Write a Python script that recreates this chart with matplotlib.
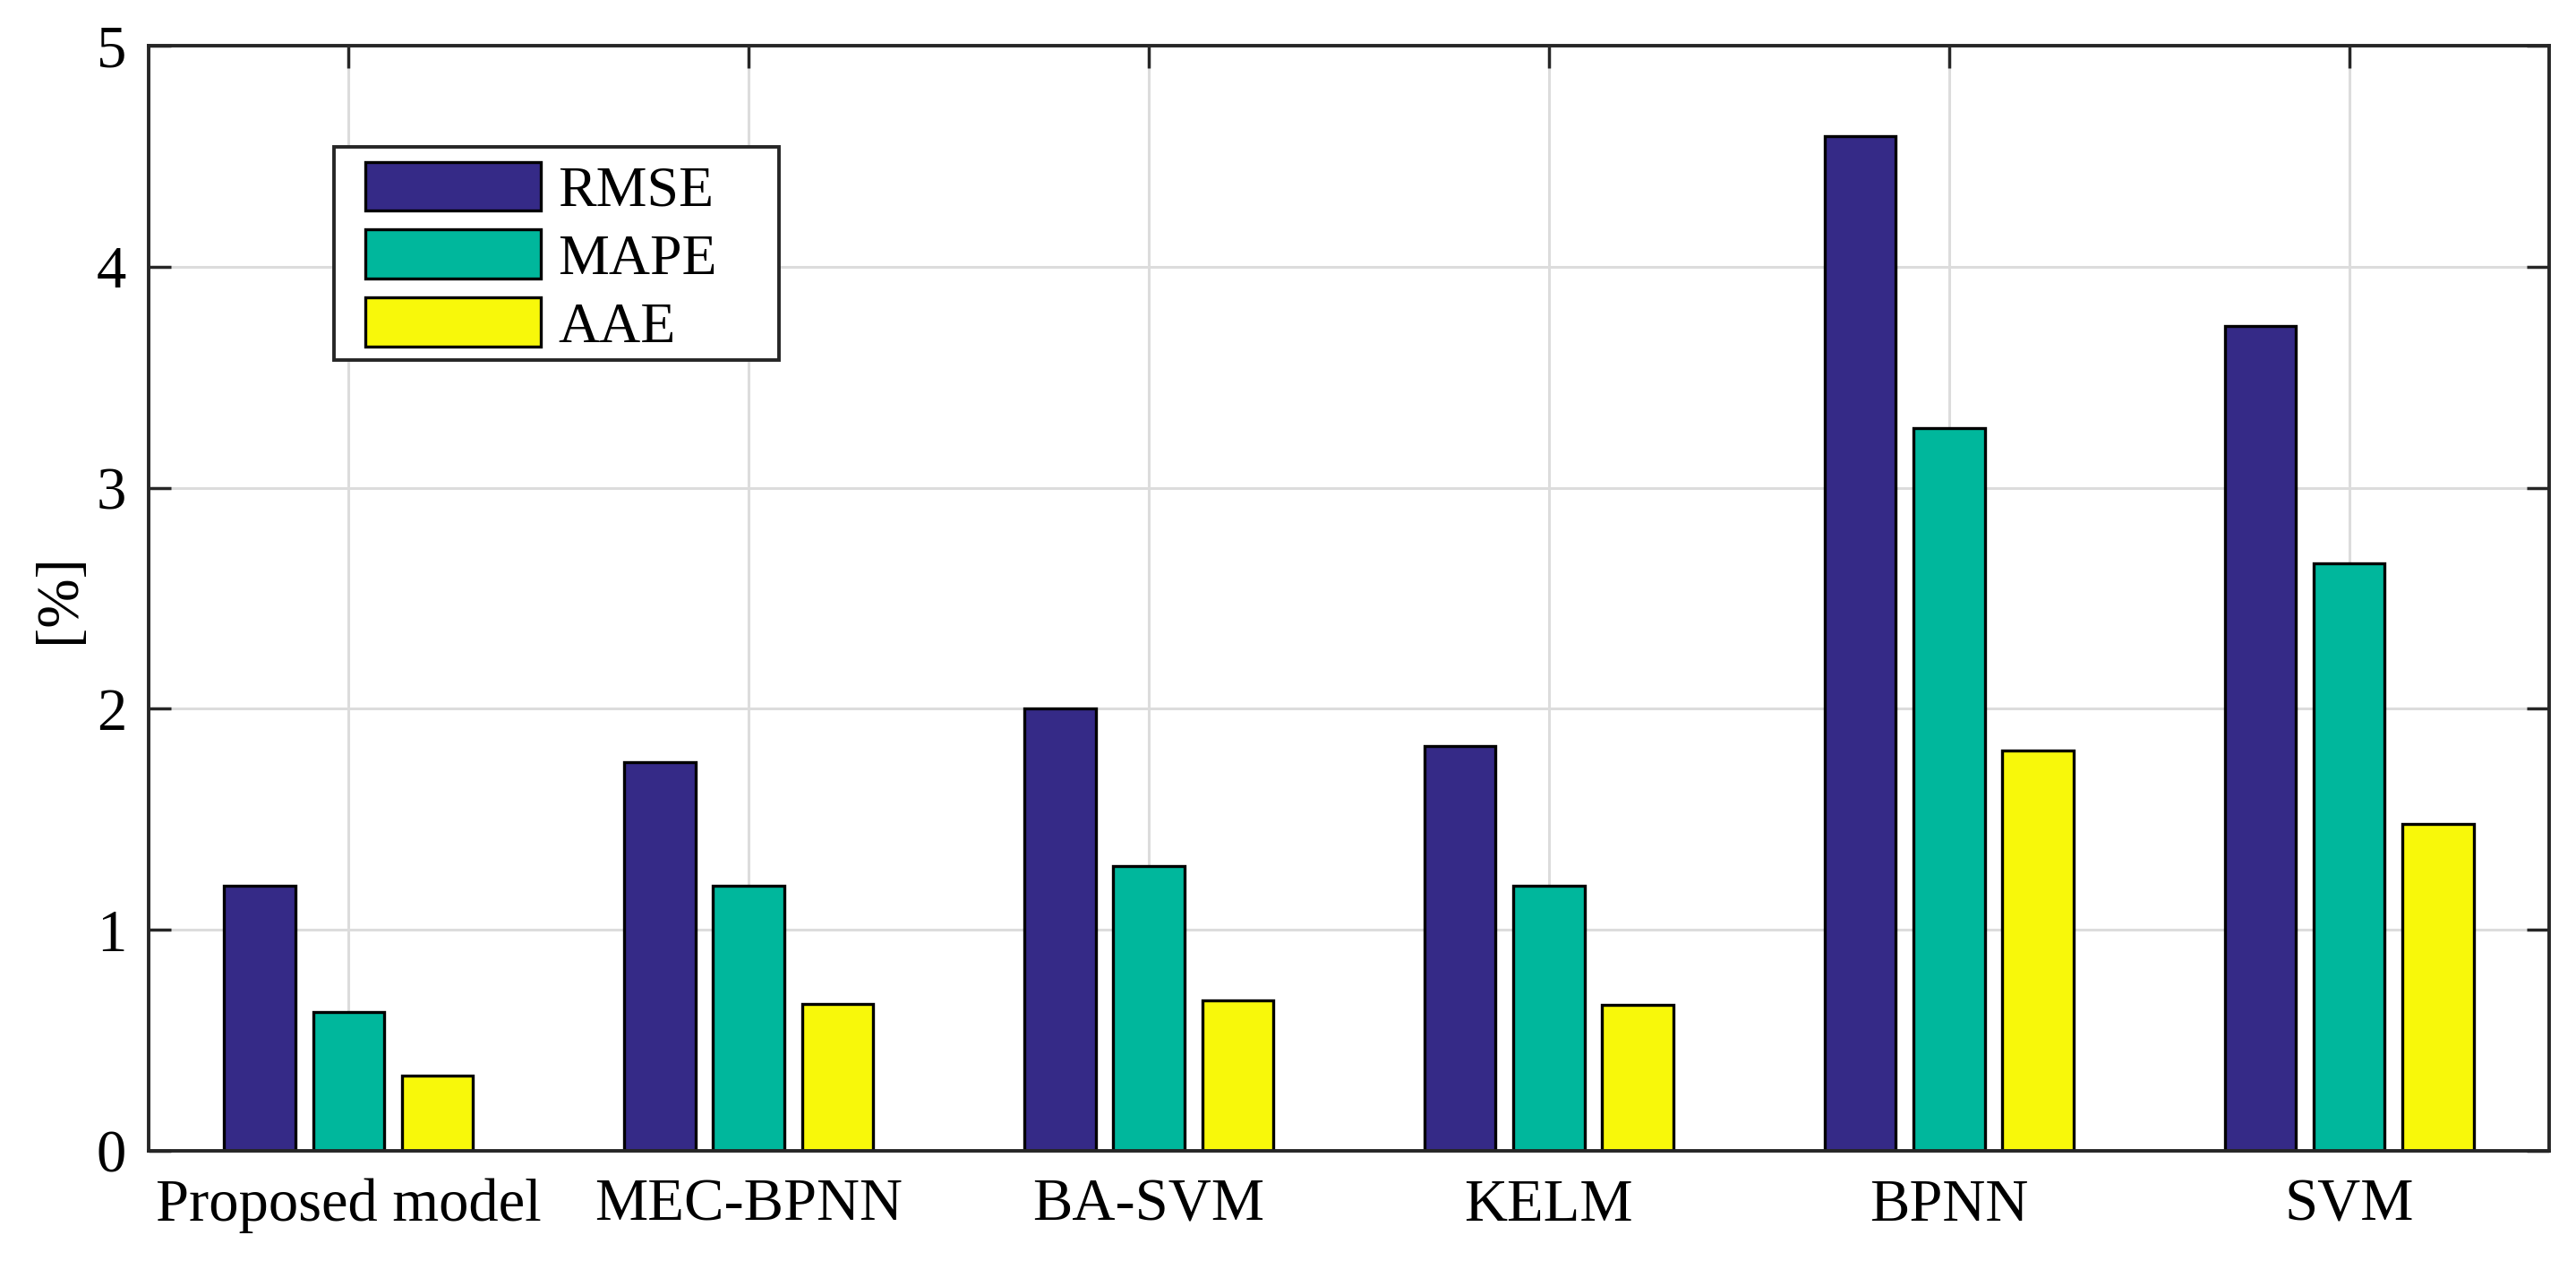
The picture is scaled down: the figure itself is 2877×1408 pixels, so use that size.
import matplotlib
matplotlib.use("Agg")
import matplotlib.pyplot as plt
from matplotlib.patches import Rectangle
import numpy as np

# error metrics per model
models = ["Proposed model", "MEC-BPNN", "BA-SVM", "KELM", "BPNN", "SVM"]
rmse = [1.20, 1.76, 2.00, 1.83, 4.59, 3.73]
mape = [0.63, 1.20, 1.29, 1.20, 3.27, 2.66]
aae = [0.34, 0.665, 0.68, 0.66, 1.81, 1.48]
series_names = ["RMSE", "MAPE", "AAE"]
yticks = [0, 1, 2, 3, 4, 5]

plt.rcParams["font.family"] = ["Liberation Serif", "DejaVu Serif"]

fig = plt.figure(figsize=(28.77, 14.08), dpi=100)
ax = fig.add_axes([166 / 2877, 1 - 1285 / 1408, (2847 - 166) / 2877, (1285 - 51) / 1408])

colors = ["#352A87", "#00B79C", "#F8F80A"]
x = np.arange(1, len(models) + 1)
offset = 0.222
width = 0.178
for i, (vals, name) in enumerate(zip([rmse, mape, aae], series_names)):
    ax.bar(x + (i - 1) * offset, vals, width, color=colors[i], edgecolor="black",
           linewidth=2.4, label=name, zorder=3)

ax.set_xlim(0.5, 6.5)
ax.set_ylim(0, 5)
ax.set_xticks(x)
ax.set_xticklabels(models)
ax.set_yticks(yticks)
ax.set_ylabel("[%]", fontsize=48, labelpad=8)

ax.grid(True, color="#dcdcdc", linewidth=2.2, zorder=0)
ax.set_axisbelow(True)
ax.tick_params(axis="both", direction="in", length=18, width=2.5, color="#262626",
               labelsize=48, top=True, right=True)
ax.tick_params(axis="x", pad=22)
ax.tick_params(axis="y", pad=18)
for s in ax.spines.values():
    s.set_linewidth(2.8)
    s.set_color("#262626")
    s.set_zorder(4)

# legend box drawn separately so the inner padding can match the original
box = Rectangle((0.0772, 0.7156), 0.1854, 0.1929, transform=ax.transAxes,
                facecolor="white", edgecolor="#262626", linewidth=2.8, zorder=5)
ax.add_patch(box)
leg = ax.legend(loc="upper left", bbox_to_anchor=(0.0903, 0.8950), frameon=False,
                borderaxespad=0, borderpad=0, fontsize=46, handlelength=3.07,
                handleheight=0.93, handletextpad=0.3, labelspacing=0.2)
leg.set_zorder(6)

fig.savefig("out.png", dpi=100)
